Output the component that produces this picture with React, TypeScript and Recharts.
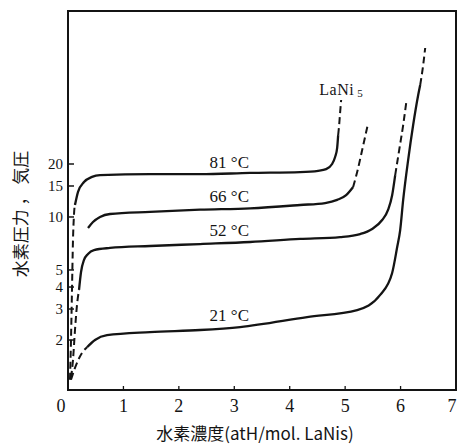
import { Line, LineChart, ReferenceArea, ReferenceDot, XAxis, YAxis } from "recharts";

// pressure axis is logarithmic
const X_TICKS = [0, 1, 2, 3, 4, 5, 6, 7];
const Y_TICKS = [2, 3, 4, 5, 10, 15, 20];
const Y_DOMAIN = [1.04, 148];

// [hydrogen content (atH/mol LaNi5), pressure (atm)]
const T81_ALPHA = [[0.036, 1.19], [0.054, 2.0], [0.072, 3.85], [0.09, 7.4], [0.108, 10.3], [0.126, 12.0]];
const T81_PLATEAU = [
  [0.126, 11.7], [0.181, 13.9], [0.289, 15.8], [0.433, 16.9], [0.578, 17.3], [1.48, 17.5],
  [2.383, 17.5], [3.285, 17.8], [4.188, 18.0], [4.513, 18.3], [4.657, 18.7], [4.765, 20.0],
  [4.819, 21.9], [4.856, 24.7], [4.874, 29.2],
];
const T81_BETA = [[4.874, 29.2], [4.892, 33.3], [4.91, 39.5], [4.928, 46.2]];

const T66_PLATEAU = [
  [0.361, 8.65], [0.451, 9.36], [0.578, 10.0], [0.758, 10.4], [1.48, 10.7], [2.383, 11.0],
  [3.285, 11.2], [4.188, 11.7], [4.639, 12.0], [4.856, 12.5], [5.018, 13.3], [5.144, 14.8],
];
const T66_BETA = [[5.144, 14.8], [5.217, 18.0], [5.307, 24.0], [5.415, 34.2]];

const T52_ALPHA = [[0.054, 1.22], [0.09, 1.54], [0.126, 2.28], [0.162, 3.16], [0.199, 3.85]];
const T52_PLATEAU = [
  [0.199, 3.85], [0.235, 4.87], [0.289, 5.7], [0.361, 6.17], [0.469, 6.49], [0.758, 6.67],
  [1.48, 6.84], [2.383, 7.02], [3.285, 7.21], [4.188, 7.5], [4.91, 7.69], [5.271, 8.0],
  [5.487, 8.55], [5.668, 9.61], [5.776, 11.0], [5.848, 13.3], [5.903, 17.3],
];
const T52_BETA = [[5.903, 17.3], [5.975, 24.0], [6.047, 33.3], [6.101, 44.4]];

const T21_ALPHA = [[0.054, 1.19], [0.126, 1.39], [0.253, 1.69], [0.343, 1.82]];
const T21_PLATEAU = [
  [0.343, 1.82], [0.487, 2.0], [0.704, 2.13], [1.48, 2.22], [2.383, 2.28], [3.105, 2.37],
  [4.314, 2.7], [5.217, 2.96], [5.632, 3.61], [5.848, 4.81], [5.939, 6.75], [5.993, 8.43],
  [6.047, 12.5], [6.137, 21.1], [6.227, 33.3], [6.318, 49.3], [6.354, 56.2],
];
const T21_BETA = [[6.354, 56.2], [6.408, 73.0], [6.444, 91.2]];

const SERIES = [
  { key: "81a", pts: T81_ALPHA, dashed: true },
  { key: "81p", pts: T81_PLATEAU, dashed: false },
  { key: "81b", pts: T81_BETA, dashed: true },
  { key: "66p", pts: T66_PLATEAU, dashed: false },
  { key: "66b", pts: T66_BETA, dashed: true },
  { key: "52a", pts: T52_ALPHA, dashed: true },
  { key: "52p", pts: T52_PLATEAU, dashed: false },
  { key: "52b", pts: T52_BETA, dashed: true },
  { key: "21a", pts: T21_ALPHA, dashed: true },
  { key: "21p", pts: T21_PLATEAU, dashed: false },
  { key: "21b", pts: T21_BETA, dashed: true },
];

const CURVE_LABELS = ["81 °C", "66 °C", "52 °C", "21 °C"];
const CURVE_LABEL_X = [2.91, 2.91, 2.91, 2.91];
const CURVE_LABEL_P = [20.5, 13.2, 8.43, 2.77];

const INK = "#141414";
const SERIF = "'Liberation Serif', 'DejaVu Serif', serif";
const CJK = "'Noto Sans CJK JP', 'Noto Sans', sans-serif";

function XTick({ x, y, payload }: any) {
  const v = payload.value;
  const dx = v === 0 ? -7 : v === 7 ? -4 : 0;
  return (
    <g>
      {v > 0 && v < 7 && <line x1={x} x2={x} y1={y} y2={y - 4} stroke={INK} strokeWidth={1.3} />}
      <text x={x + dx} y={y + 22} textAnchor="middle" fontFamily={SERIF} fontSize={18} fill={INK}>
        {v}
      </text>
    </g>
  );
}

function YTick({ x, y, payload }: any) {
  return (
    <g>
      <line x1={x} x2={x + 6} y1={y} y2={y} stroke={INK} strokeWidth={1.5} />
      <text x={x - 5} y={y + 5} textAnchor="end" fontFamily={SERIF} fontSize={15} fill={INK}>
        {payload.value}
      </text>
    </g>
  );
}

function TextAt({ viewBox, text }: any) {
  return (
    <text x={viewBox.x} y={viewBox.y + 6} textAnchor="middle" fontFamily={SERIF} fontSize={17} fill={INK}>
      {text}
    </text>
  );
}

function LaNiLabel({ viewBox }: any) {
  return (
    <text x={viewBox.x} y={viewBox.y + 5} textAnchor="middle" fontFamily={SERIF} fontSize={16} fill={INK} letterSpacing={0.5}>
      LaNi
      <tspan fontSize={11} dx={3} dy={2}>5</tspan>
    </text>
  );
}

export default function App() {
  return (
    <div style={{ position: "absolute", left: 0, top: 0, width: 457, height: 444, background: "#fff" }}>
      <LineChart width={457} height={444} margin={{ top: 11, right: 1, bottom: 24, left: 28 }}>
        <XAxis
          dataKey="x"
          type="number"
          domain={[0, 7]}
          ticks={X_TICKS}
          interval={0}
          allowDataOverflow
          axisLine={false}
          tickLine={false}
          tickSize={0}
          tickMargin={0}
          height={30}
          tick={<XTick />}
        />
        <YAxis
          type="number"
          scale="log"
          domain={Y_DOMAIN}
          ticks={Y_TICKS}
          interval={0}
          allowDataOverflow
          axisLine={false}
          tickLine={false}
          tickSize={0}
          tickMargin={0}
          width={40}
          tick={<YTick />}
        />
        <ReferenceArea
          x1={0}
          x2={7}
          y1={Y_DOMAIN[0]}
          y2={Y_DOMAIN[1]}
          fill="none"
          stroke={INK}
          strokeWidth={2}
          ifOverflow="visible"
        />
        {SERIES.map((s) => (
          <Line
            key={s.key}
            data={s.pts.map(([x, p]) => ({ x, p }))}
            dataKey="p"
            type="monotone"
            stroke={INK}
            strokeWidth={s.dashed ? 2 : 2.3}
            strokeDasharray={s.dashed ? "7 4" : undefined}
            dot={false}
            activeDot={false}
            isAnimationActive={false}
          />
        ))}
        {CURVE_LABELS.map((t, i) => (
          <ReferenceDot
            key={t}
            x={CURVE_LABEL_X[i]}
            y={CURVE_LABEL_P[i]}
            r={0}
            fill="none"
            stroke="none"
            label={<TextAt text={t} />}
          />
        ))}
        <ReferenceDot x={4.93} y={52.7} r={0} fill="none" stroke="none" label={<LaNiLabel />} />
      </LineChart>
      <div
        style={{
          position: "absolute",
          left: 0,
          width: 510,
          top: 424,
          lineHeight: "17px",
          textAlign: "center",
          fontFamily: CJK,
          fontSize: 17,
          color: INK,
          whiteSpace: "nowrap",
        }}
      >
        水素濃度(atH/mol. LaNis)
      </div>
      <div
        style={{
          position: "absolute",
          left: 19,
          top: 214,
          lineHeight: "17px",
          transform: "translate(-50%, -50%) rotate(-90deg)",
          fontFamily: CJK,
          fontSize: 17,
          color: INK,
          whiteSpace: "nowrap",
        }}
      >
        水素圧力 ， 気圧
      </div>
    </div>
  );
}
